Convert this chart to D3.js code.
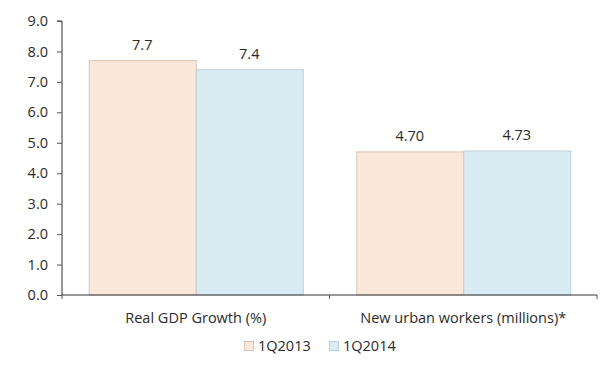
<!DOCTYPE html>
<html>
<head>
<meta charset="utf-8">
<script src="https://cdn.jsdelivr.net/npm/d3@7"></script>
<style>
  body { margin: 0; background: #fff; }
  text { font-family: "Open Sans", sans-serif; fill: #2b2b2b; }
</style>
</head>
<body>
<div id="chart"></div>
<script>
// data
const categories = ["Real GDP Growth (%)", "New urban workers (millions)*"];
const seriesNames = ["1Q2013", "1Q2014"];
const values2013 = [7.7, 4.70];
const values2014 = [7.4, 4.73];
const labels2013 = ["7.7", "4.70"];
const labels2014 = ["7.4", "4.73"];
const yTicks = [0, 1, 2, 3, 4, 5, 6, 7, 8, 9];

const fills = ["#fce8da", "#daecf3"];
const strokes = ["#d8c5b8", "#bccfd8"];
const fontSize = "14.5px";

let margin = { top: 21, right: 15, bottom: 72, left: 62 },
  width = 612 - margin.left - margin.right,
  height = 367 - margin.top - margin.bottom;

let svg = d3.select("#chart").append("svg")
  .attr("width", 612)
  .attr("height", 367)
  .append("g")
  .attr("transform", "translate(" + margin.left + "," + margin.top + ")");

let x0 = d3.scaleBand().domain(categories).range([0, width]).paddingInner(0.2).paddingOuter(0.1);
let outer = d3.scaleBand().domain(categories).range([0, width]);
let x1 = d3.scaleBand().domain(seriesNames).range([0, x0.bandwidth()]);
let y = d3.scaleLinear().domain([0, 9]).range([height, 0]);

const rows = categories.map((c, i) => ({
  cat: c,
  vals: [
    { s: seriesNames[0], v: values2013[i], label: labels2013[i], k: 0 },
    { s: seriesNames[1], v: values2014[i], label: labels2014[i], k: 1 }
  ]
}));

// bars
let groups = svg.selectAll(".grp").data(rows).enter().append("g")
  .attr("transform", d => "translate(" + x0(d.cat) + ",0)");

groups.selectAll("rect").data(d => d.vals).enter().append("rect")
  .attr("x", d => x1(d.s) + 0.5)
  .attr("y", d => y(d.v))
  .attr("width", x1.bandwidth())
  .attr("height", d => height - y(d.v))
  .attr("fill", d => fills[d.k])
  .attr("stroke", d => strokes[d.k])
  .attr("stroke-width", 1);

groups.selectAll(".lbl").data(d => d.vals).enter().append("text")
  .attr("x", d => x1(d.s) + x1.bandwidth() / 2)
  .attr("y", d => y(d.v) - 11)
  .attr("text-anchor", "middle")
  .style("font-size", fontSize)
  .text(d => d.label);

// y axis
let yAxis = svg.append("g")
  .call(d3.axisLeft(y).tickValues(yTicks).tickFormat(d3.format(".1f")).tickSize(5).tickPadding(9));
yAxis.selectAll("text").style("font-size", fontSize).attr("fill", "#2b2b2b");
yAxis.selectAll("line").attr("stroke", "#555");
yAxis.select(".domain").attr("stroke", "#333").attr("d", "M-5," + y(9) + "H0V" + height);

// x axis
let xAxis = svg.append("g")
  .attr("transform", "translate(0," + height + ")");
xAxis.append("line")
  .attr("x1", 0).attr("x2", width)
  .attr("stroke", "#333");
xAxis.selectAll(".tk").data([0].concat(categories.map(c => outer(c) + outer.bandwidth()))).enter()
  .append("line")
  .attr("x1", d => d).attr("x2", d => d)
  .attr("y1", 0).attr("y2", 4)
  .attr("stroke", "#555");
xAxis.selectAll(".cat").data(categories).enter().append("text")
  .attr("x", d => outer(d) + outer.bandwidth() / 2)
  .attr("y", 28)
  .attr("text-anchor", "middle")
  .style("font-size", fontSize)
  .text(d => d);

// legend
let legend = svg.append("g")
  .attr("transform", "translate(" + (244 - margin.left) + "," + (341 - margin.top) + ")");
let items = legend.selectAll(".item").data(seriesNames).enter().append("g")
  .attr("transform", (d, i) => "translate(" + (i * 85) + ",0)");
items.append("rect")
  .attr("width", 9).attr("height", 9)
  .attr("x", 0.5).attr("y", 0.5)
  .attr("fill", (d, i) => fills[i])
  .attr("stroke", (d, i) => strokes[i]);
items.append("text")
  .attr("x", 14).attr("y", 10)
  .style("font-size", fontSize)
  .text(d => d);
</script>
</body>
</html>
